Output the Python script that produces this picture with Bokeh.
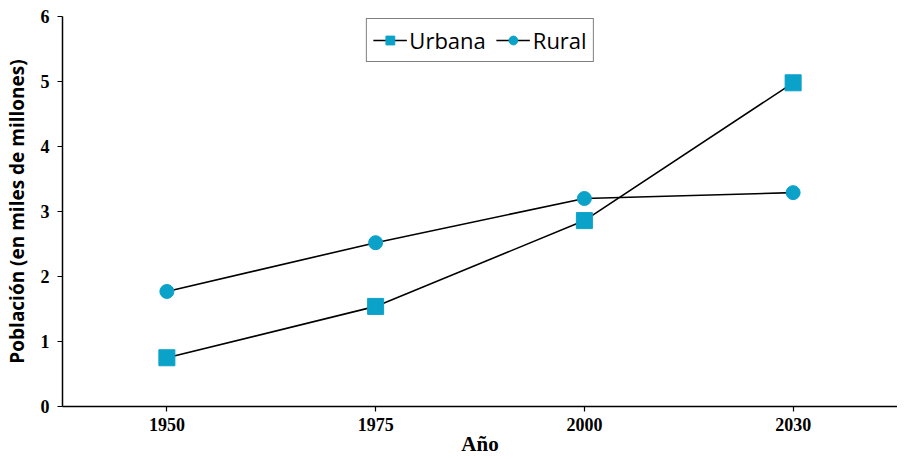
from bokeh.plotting import figure
from bokeh.embed import file_html
from bokeh.resources import INLINE
from bokeh.models import FactorRange, Range1d, FixedTicker

years = ["1950", "1975", "2000", "2030"]
urbana = [0.75, 1.54, 2.86, 4.98]
rural = [1.77, 2.52, 3.20, 3.29]
y_ticks = [0, 1, 2, 3, 4, 5, 6]

color = "#0aa2c9"

p = figure(width=897, height=459, x_range=FactorRange(*years), y_range=Range1d(0, 6),
           output_backend="svg", toolbar_location=None,
           min_border_left=60, min_border_right=0, min_border_top=16, min_border_bottom=53)
p.outline_line_color = None
p.xgrid.grid_line_color = None
p.ygrid.grid_line_color = None

p.line(years, urbana, line_color="black", line_width=1.6, legend_label="Urbana")
p.scatter(years, urbana, marker="square", size=16, fill_color=color, line_color=color,
          legend_label="Urbana")
p.line(years, rural, line_color="black", line_width=1.6, legend_label="Rural")
p.scatter(years, rural, marker="circle", size=14, fill_color=color, line_color=color,
          legend_label="Rural")

for ax in (p.xaxis[0], p.yaxis[0]):
    ax.axis_line_color = "black"
    ax.axis_line_width = 1.5
    ax.major_tick_line_color = "black"
    ax.major_tick_line_width = 1.2
    ax.major_tick_out = 5
    ax.major_tick_in = 0
    ax.minor_tick_line_color = None
    ax.major_label_text_font = "Liberation Serif"
    ax.major_label_text_font_style = "bold"
    ax.major_label_text_font_size = "18px"
    ax.major_label_text_color = "black"

p.yaxis[0].ticker = FixedTicker(ticks=y_ticks)
p.yaxis[0].major_label_standoff = 8
p.yaxis[0].axis_label = "Población (en miles de millones)"
p.yaxis[0].axis_label_text_font = "Open Sans"
p.yaxis[0].axis_label_text_font_style = "bold"
p.yaxis[0].axis_label_text_font_size = "19px"
p.yaxis[0].axis_label_text_color = "black"
p.yaxis[0].axis_label_standoff = 8

p.xaxis[0].major_label_standoff = 6
p.xaxis[0].axis_label = "Año"
p.xaxis[0].axis_label_text_font = "Liberation Serif"
p.xaxis[0].axis_label_text_font_style = "bold"
p.xaxis[0].axis_label_text_font_size = "21px"
p.xaxis[0].axis_label_text_color = "black"
p.xaxis[0].axis_label_standoff = -2

lg = p.legend[0]
lg.location = "top_center"
lg.orientation = "horizontal"
lg.border_line_color = "black"
lg.border_line_width = 1.5
lg.background_fill_alpha = 1
lg.label_text_font = "Open Sans"
lg.label_text_font_size = "22px"
lg.label_text_color = "black"
lg.glyph_width = 34
lg.glyph_height = 22
lg.label_standoff = 3
lg.spacing = 10
lg.padding = 6
lg.margin = 2

open("out.html", "w").write(file_html(p, INLINE))
